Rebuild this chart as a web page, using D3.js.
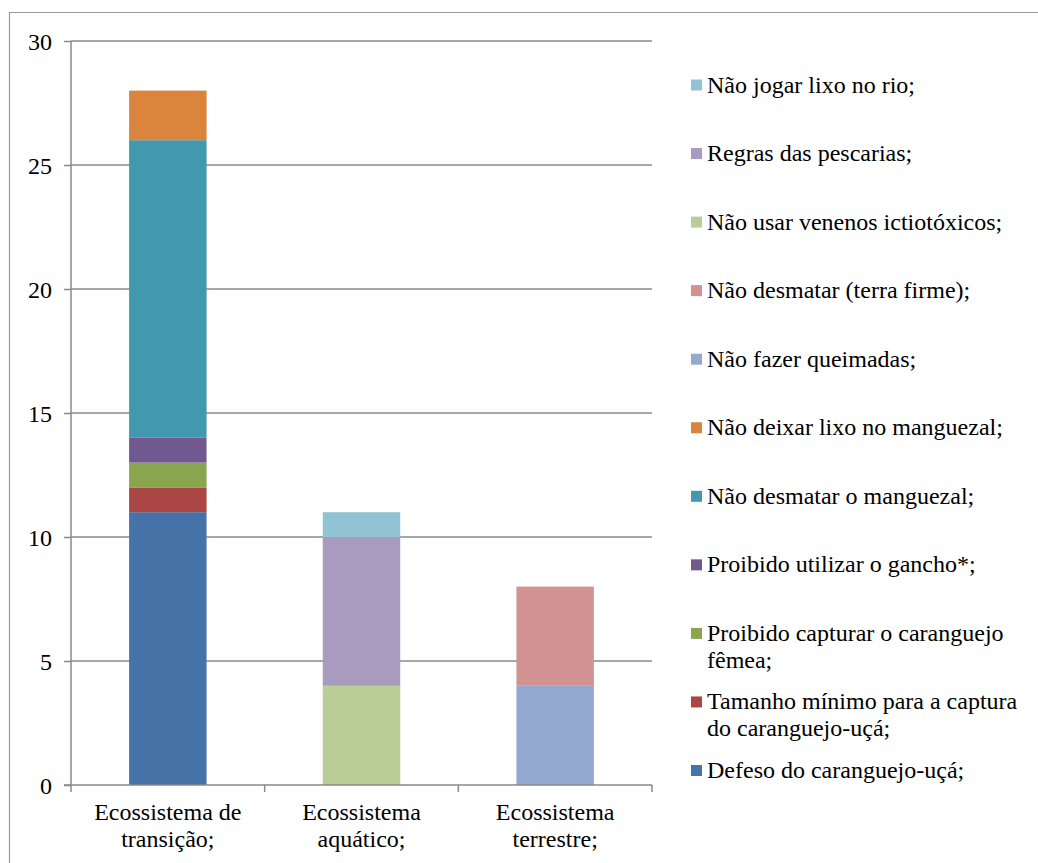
<!DOCTYPE html>
<html><head><meta charset="utf-8">
<script src="https://cdn.jsdelivr.net/npm/d3@7"></script>
<style>body{margin:0;background:#fff}svg{display:block}
svg text, svg tspan{font-family:"Liberation Serif" !important;}</style>
</head><body><svg id="c" width="1038" height="863" font-family="Liberation Serif"></svg>
<script>
const categories = ["Ecossistema de\ntransição;", "Ecossistema\naquático;", "Ecossistema\nterrestre;"];
const seriesNames = [
  "Defeso do caranguejo-uçá;",
  "Tamanho mínimo para a captura\ndo caranguejo-uçá;",
  "Proibido capturar o caranguejo\nfêmea;",
  "Proibido utilizar o gancho*;",
  "Não desmatar o manguezal;",
  "Não deixar lixo no manguezal;",
  "Não fazer queimadas;",
  "Não desmatar (terra firme);",
  "Não usar venenos ictiotóxicos;",
  "Regras das pescarias;",
  "Não jogar lixo no rio;"
];
const seriesColors = ["#4572A7","#AA4643","#89A54E","#71588F","#4198AF","#DB843D","#93A9CF","#D19392","#B9CD96","#A99BBD","#91C3D5"];
// values per series, in category order [transição, aquático, terrestre]
const defeso = [11, 0, 0];
const tamanho = [1, 0, 0];
const femea = [1, 0, 0];
const gancho = [1, 0, 0];
const desmatarMangue = [12, 0, 0];
const lixoMangue = [2, 0, 0];
const queimadas = [0, 0, 4];
const terraFirme = [0, 0, 4];
const venenos = [0, 4, 0];
const regras = [0, 6, 0];
const lixoRio = [0, 1, 0];
const yTicks = [0, 5, 10, 15, 20, 25, 30];

const serifFamily = '"Liberation Serif"';
const labelSize = "24px";

const seriesValues = [defeso, tamanho, femea, gancho, desmatarMangue, lixoMangue, queimadas, terraFirme, venenos, regras, lixoRio];
const rows = categories.map((c, ci) => {
  const r = {cat: c};
  seriesNames.forEach((s, si) => r[s] = seriesValues[si][ci]);
  return r;
});
const stack = d3.stack().keys(seriesNames)(rows);

const svg = d3.select("#c");
const pL = 71, pR = 652, pT = 41, pB = 785;

function serif(sel) {
  return sel.attr("font-family", "Liberation Serif").style("font-family", serifFamily).style("font-size", labelSize).attr("fill", "#000");
}

// outer frame
svg.append("path").attr("d", "M9.5,863 V12.5 H1038").attr("fill", "none").attr("stroke", "#999").attr("stroke-width", 1.2);

const x = d3.scaleBand().domain(categories).range([pL, pR]).paddingInner(0.6).paddingOuter(0.3);
const y = d3.scaleLinear().domain([0, 30]).range([pB, pT]);

// gridlines
svg.append("g").selectAll("line").data(yTicks.filter(t => t > 0)).join("line")
  .attr("x1", pL).attr("x2", pR).attr("y1", d => y(d)).attr("y2", d => y(d))
  .attr("stroke", "#8a8a8a").attr("stroke-width", 1.5);

// bars
svg.append("g").selectAll("g").data(stack).join("g")
  .attr("fill", (d, i) => seriesColors[i])
  .selectAll("rect").data(d => d.filter(v => v[1] - v[0] > 0)).join("rect")
  .attr("x", d => x(d.data.cat)).attr("width", x.bandwidth())
  .attr("y", d => y(d[1])).attr("height", d => y(d[0]) - y(d[1]));

// y axis
const yAxis = svg.append("g").attr("transform", `translate(${pL},0)`)
  .call(d3.axisLeft(y).tickValues(yTicks).tickSize(7).tickPadding(12).tickFormat(d3.format("d")));
yAxis.attr("font-family", "Liberation Serif").attr("font-size", 24);
yAxis.select(".domain").attr("stroke", "#8a8a8a").attr("stroke-width", 1.5).attr("d", `M0,${pT}V${pB}`);
yAxis.selectAll(".tick line").attr("stroke", "#8a8a8a").attr("stroke-width", 1.5);
serif(yAxis.selectAll(".tick text")).attr("dy", "0.34em");

// x axis
const xAxis = svg.append("g").attr("transform", `translate(0,${pB})`).attr("font-family", "Liberation Serif");
xAxis.append("line").attr("x1", pL - 7).attr("x2", pR).attr("y1", 0).attr("y2", 0).attr("stroke", "#8a8a8a").attr("stroke-width", 1.5);
const step = x.step();
const tickXs = [pL, ...categories.map(c => x(c) + x.bandwidth() / 2 + step / 2)];
xAxis.selectAll(".xt").data(tickXs).join("line").attr("class", "xt")
  .attr("x1", d => d).attr("x2", d => d).attr("y1", 0).attr("y2", 7)
  .attr("stroke", "#8a8a8a").attr("stroke-width", 1.5);
serif(xAxis.selectAll(".xl").data(categories).join("text").attr("class", "xl"))
  .attr("text-anchor", "middle")
  .attr("transform", d => `translate(${x(d) + x.bandwidth() / 2},0)`)
  .each(function (d) {
    serif(d3.select(this).selectAll("tspan").data(d.split("\n")).join("tspan"))
      .attr("x", 0).attr("y", (t, i) => 35 + i * 27).text(t => t);
  });

// legend (reverse order)
const legendOrder = seriesNames.map((s, i) => i).reverse();
const lg = svg.append("g").attr("font-family", "Liberation Serif");
legendOrder.forEach((si, k) => {
  const base = 92.5 + k * 68.55;
  lg.append("rect").attr("x", 691).attr("y", base - 13).attr("width", 11).attr("height", 11).attr("fill", seriesColors[si]);
  const t = serif(lg.append("text"));
  seriesNames[si].split("\n").forEach((line, li) => {
    serif(t.append("tspan")).attr("x", 707).attr("y", base + li * 27).text(line);
  });
});
</script></body></html>
